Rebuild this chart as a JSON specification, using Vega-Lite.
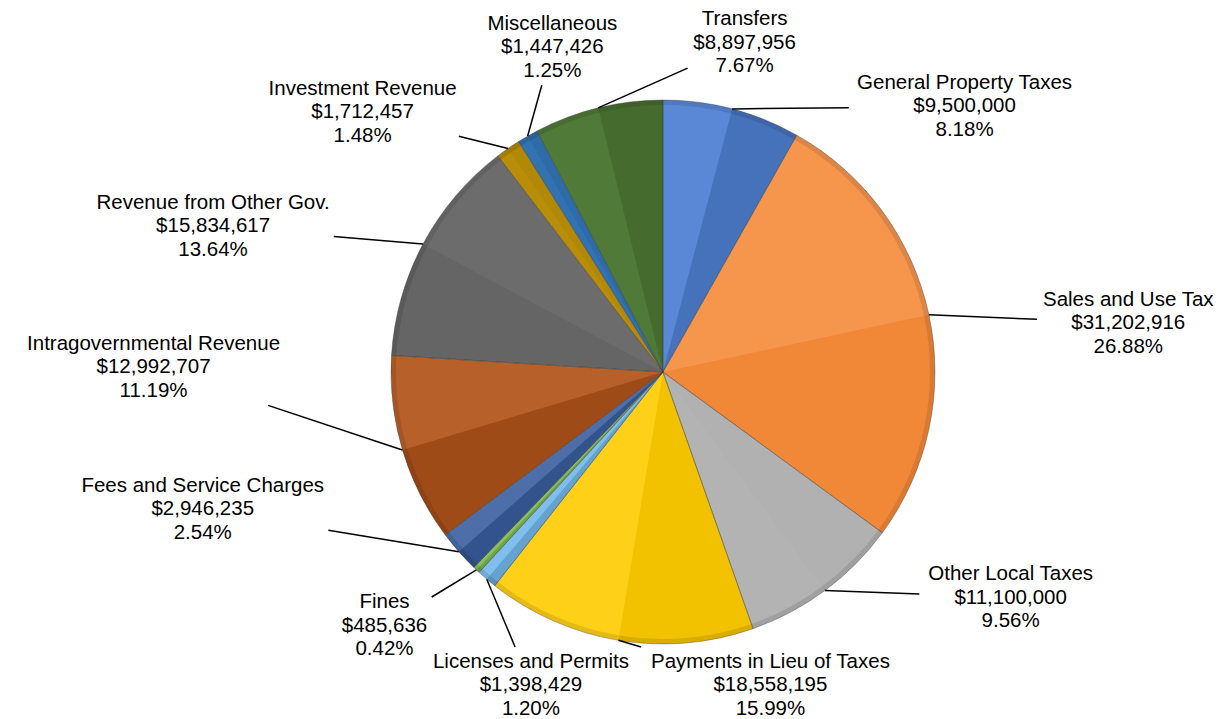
{
  "$schema": "https://vega.github.io/schema/vega-lite/v6.json",
  "width": 1130,
  "height": 694,
  "autosize": {"type": "none"},
  "padding": {"left": 98, "top": 25, "right": 0, "bottom": 0},
  "background": "white",
  "config": {"view": {"stroke": null}},
  "data": {
    "values": [
      {"category": "General Property Taxes", "amount": 9500000},
      {"category": "Sales and Use Tax", "amount": 31202916},
      {"category": "Other Local Taxes", "amount": 11100000},
      {"category": "Payments in Lieu of Taxes", "amount": 18558195},
      {"category": "Licenses and Permits", "amount": 1398429},
      {"category": "Fines", "amount": 485636},
      {"category": "Fees and Service Charges", "amount": 2946235},
      {"category": "Intragovernmental Revenue", "amount": 12992707},
      {"category": "Revenue from Other Gov.", "amount": 15834617},
      {"category": "Investment Revenue", "amount": 1712457},
      {"category": "Miscellaneous", "amount": 1447426},
      {"category": "Transfers", "amount": 8897956}
    ]
  },
  "transform": [
    {"window": [{"op": "sum", "field": "amount", "as": "cumEnd"}], "frame": [null, 0]},
    {"joinaggregate": [{"op": "sum", "field": "amount", "as": "total"}]},
    {"calculate": "(datum.cumEnd - datum.amount) / datum.total", "as": "startFrac"},
    {"calculate": "(datum.cumEnd - datum.amount / 2) / datum.total", "as": "midFrac"},
    {"calculate": "datum.cumEnd / datum.total", "as": "endFrac"},
    {"calculate": "2 * PI * datum.midFrac", "as": "midAngle"},
    {"calculate": "cos(2 * PI * datum.startFrac - PI / 4)", "as": "lightCcw"},
    {"calculate": "cos(2 * PI * datum.endFrac + 3 * PI / 4)", "as": "lightCw"},
    {"calculate": "datum.lightCcw > 0 ? 0.6 * datum.lightCcw : -0.75 * datum.lightCcw", "as": "shadeCcw"},
    {"calculate": "datum.lightCw > 0 ? 0.6 * datum.lightCw : -0.75 * datum.lightCw", "as": "shadeCw"},
    {"calculate": "'$' + format(datum.amount, ',.0f')", "as": "amountText"},
    {"calculate": "format(datum.amount / datum.total, '.2%')", "as": "shareText"},
    {"calculate": "[datum.category, datum.amountText, datum.shareText]", "as": "labelLines"},
    {"calculate": "datum.midAngle < 1.92 ? datum.midAngle + 2 * PI : datum.midAngle", "as": "ringAngle"},
    {"window": [{"op": "row_number", "as": "ringIndex"}], "sort": [{"field": "ringAngle", "order": "ascending"}]},
    {"calculate": "datum.ringAngle - 0.4363 * datum.ringIndex", "as": "slack"},
    {"window": [{"op": "max", "field": "slack", "as": "pushCw"}], "sort": [{"field": "ringAngle", "order": "ascending"}], "frame": [null, 0]},
    {"window": [{"op": "min", "field": "slack", "as": "pushCcw"}], "sort": [{"field": "ringAngle", "order": "ascending"}], "frame": [0, null]},
    {"calculate": "(datum.pushCw + datum.pushCcw) / 2 + 0.4363 * datum.ringIndex", "as": "labelAngle"},
    {"calculate": "4.9 * max(length(datum.category), length(datum.amountText)) + 2", "as": "halfWidth"},
    {"calculate": "(385 + datum.halfWidth) * sin(datum.labelAngle)", "as": "labelX"},
    {"calculate": "max(-313, 335 * cos(datum.labelAngle))", "as": "labelY"},
    {"calculate": "272 * sin(datum.midAngle)", "as": "rimX"},
    {"calculate": "272 * cos(datum.midAngle)", "as": "rimY"},
    {"calculate": "min(1, (datum.halfWidth + 6) / abs(datum.rimX - datum.labelX), 38 / abs(datum.rimY - datum.labelY))", "as": "reach"},
    {"calculate": "datum.labelX + datum.reach * (datum.rimX - datum.labelX)", "as": "tipX"},
    {"calculate": "datum.labelY + datum.reach * (datum.rimY - datum.labelY)", "as": "tipY"}
  ],
  "layer": [
    {
      "mark": {"type": "arc", "outerRadius": 272},
      "encoding": {
        "theta": {"field": "startFrac", "type": "quantitative", "scale": {"domain": [0, 1], "zero": false, "nice": false}},
        "theta2": {"field": "endFrac"},
        "color": {
          "field": "category",
          "type": "nominal",
          "legend": null,
          "scale": {
            "domain": ["General Property Taxes", "Sales and Use Tax", "Other Local Taxes", "Payments in Lieu of Taxes", "Licenses and Permits", "Fines", "Fees and Service Charges", "Intragovernmental Revenue", "Revenue from Other Gov.", "Investment Revenue", "Miscellaneous", "Transfers"],
            "range": ["#4f80d4", "#f68b3a", "#b0b0b0", "#ffcc00", "#72b8ec", "#7dbb50", "#3b5fa0", "#b4561c", "#6e6e6e", "#b88c08", "#2f70af", "#4c7733"]
          }
        }
      }
    },
    {
      "mark": {"type": "arc", "outerRadius": 272},
      "encoding": {
        "theta": {"field": "startFrac", "type": "quantitative", "scale": {"domain": [0, 1], "zero": false, "nice": false}},
        "theta2": {"field": "midFrac"},
        "color": {"condition": {"test": "datum.lightCcw > 0", "value": "#ffffff"}, "value": "#000000"},
        "opacity": {"field": "shadeCcw", "type": "quantitative", "legend": null, "scale": {"domain": [0, 1], "range": [0, 0.16], "zero": false, "nice": false}}
      }
    },
    {
      "mark": {"type": "arc", "outerRadius": 272},
      "encoding": {
        "theta": {"field": "midFrac", "type": "quantitative", "scale": {"domain": [0, 1], "zero": false, "nice": false}},
        "theta2": {"field": "endFrac"},
        "color": {"condition": {"test": "datum.lightCw > 0", "value": "#ffffff"}, "value": "#000000"},
        "opacity": {"field": "shadeCw", "type": "quantitative", "legend": null, "scale": {"domain": [0, 1], "range": [0, 0.16], "zero": false, "nice": false}}
      }
    },
    {
      "mark": {"type": "arc", "innerRadius": 267, "outerRadius": 272, "fill": "#000000", "fillOpacity": 0.1},
      "encoding": {
        "theta": {"field": "startFrac", "type": "quantitative", "scale": {"domain": [0, 1], "zero": false, "nice": false}},
        "theta2": {"field": "endFrac"}
      }
    },
    {
      "mark": {"type": "arc", "outerRadius": 272, "fillOpacity": 0, "stroke": "#3a3a3a", "strokeOpacity": 0.45, "strokeWidth": 0.8},
      "encoding": {
        "theta": {"field": "startFrac", "type": "quantitative", "scale": {"domain": [0, 1], "zero": false, "nice": false}},
        "theta2": {"field": "endFrac"}
      }
    },
    {
      "mark": {"type": "rule", "color": "#000000", "strokeWidth": 1.5},
      "encoding": {
        "x": {"field": "rimX", "type": "quantitative", "scale": {"domain": [-565, 565], "nice": false, "zero": false}, "axis": null},
        "y": {"field": "rimY", "type": "quantitative", "scale": {"domain": [-347, 347], "nice": false, "zero": false}, "axis": null},
        "x2": {"field": "tipX"},
        "y2": {"field": "tipY"}
      }
    },
    {
      "mark": {"type": "text", "font": "Liberation Sans", "fontSize": 20.5, "lineHeight": 23.5, "align": "center", "baseline": "middle", "dy": -23.5, "color": "#000000"},
      "encoding": {
        "x": {"field": "labelX", "type": "quantitative", "scale": {"domain": [-565, 565], "nice": false, "zero": false}, "axis": null},
        "y": {"field": "labelY", "type": "quantitative", "scale": {"domain": [-347, 347], "nice": false, "zero": false}, "axis": null},
        "text": {"field": "labelLines"}
      }
    }
  ],
  "resolve": {"scale": {"color": "independent"}}
}
